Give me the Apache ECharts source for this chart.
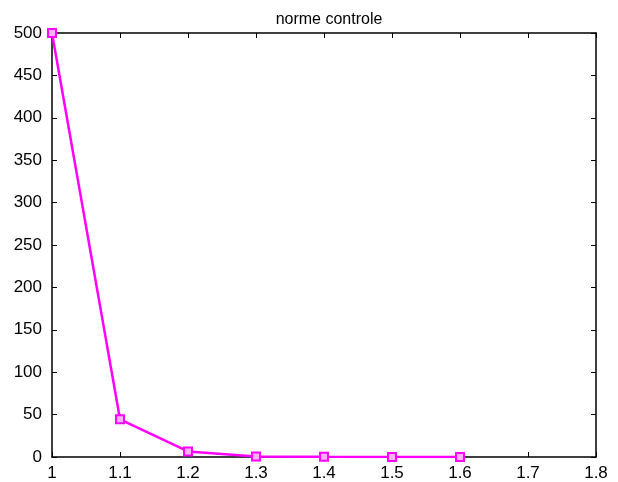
<!DOCTYPE html>
<html>
<head>
<meta charset="utf-8">
<script src="https://cdn.jsdelivr.net/npm/echarts@6/dist/echarts.min.js"></script>
<style>
  html, body { margin: 0; padding: 0; background: #fff; }
  #chart { width: 618px; height: 482px; }
</style>
</head>
<body>
<div id="chart"></div>
<script>
var titleText = 'norme controle';
var xValues = [1, 1.1, 1.2, 1.3, 1.4, 1.5, 1.6];
var yValues = [500, 44.5, 6.6, 0.6, 0.2, 0.1, 0.05];

var chart = echarts.init(document.getElementById('chart'));
var font = 'Liberation Sans, Arial, sans-serif';
var pts = xValues.map(function (x, i) { return [x, yValues[i]]; });

var option = {
    animation: false,
    backgroundColor: '#fff',
    title: {
        text: titleText,
        left: 324,
        textAlign: 'center',
        top: 7,
        textStyle: { fontFamily: font, fontSize: 16, fontWeight: 'normal', color: '#000' }
    },
    grid: { left: 52, right: 22, top: 33, bottom: 22 },
    xAxis: [
        {
            type: 'value', min: 1, max: 1.8, interval: 0.1,
            axisLine: { show: true, onZero: false, lineStyle: { color: '#000', width: 1.5 } },
            axisTick: { show: true, inside: true, length: 5, lineStyle: { color: '#000' } },
            axisLabel: { color: '#000', fontFamily: font, fontSize: 17, margin: 8 },
            splitLine: { show: false }
        },
        {
            type: 'value', min: 1, max: 1.8, interval: 0.1, position: 'top',
            axisLine: { show: true, onZero: false, lineStyle: { color: '#000', width: 1.5 } },
            axisTick: { show: true, inside: true, length: 5, lineStyle: { color: '#000' } },
            axisLabel: { show: false },
            splitLine: { show: false }
        }
    ],
    yAxis: [
        {
            type: 'value', min: 0, max: 500, interval: 50,
            axisLine: { show: true, onZero: false, lineStyle: { color: '#000', width: 1.5 } },
            axisTick: { show: true, inside: true, length: 5, lineStyle: { color: '#000' } },
            axisLabel: { color: '#000', fontFamily: font, fontSize: 17, margin: 10 },
            splitLine: { show: false }
        },
        {
            type: 'value', min: 0, max: 500, interval: 50, position: 'right',
            axisLine: { show: true, onZero: false, lineStyle: { color: '#000', width: 1.5 } },
            axisTick: { show: true, inside: true, length: 5, lineStyle: { color: '#000' } },
            axisLabel: { show: false },
            splitLine: { show: false }
        }
    ],
    series: [
        {
            type: 'line',
            data: pts,
            symbol: 'rect',
            symbolSize: 8,
            showAllSymbol: true,
            lineStyle: { color: '#ff00ff', width: 2.5 },
            itemStyle: { color: '#ffb0ff', borderColor: '#ff00ff', borderWidth: 2 }
        }
    ]
};
chart.setOption(option);
</script>
</body>
</html>
